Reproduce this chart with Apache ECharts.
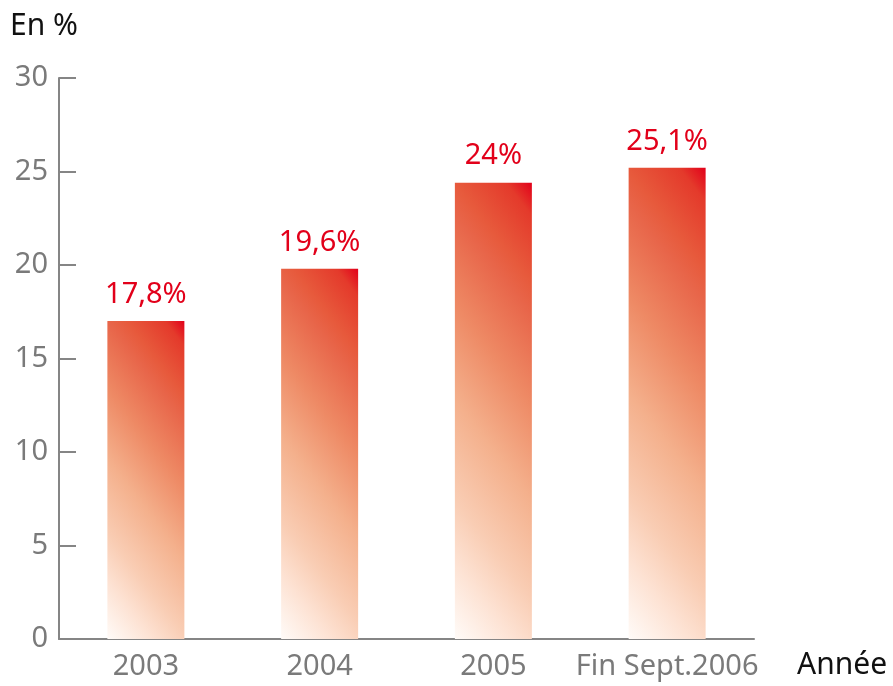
<!DOCTYPE html>
<html>
<head>
<meta charset="utf-8">
<script src="https://cdn.jsdelivr.net/npm/echarts@6/dist/echarts.min.js"></script>
<style>
  html, body { margin: 0; padding: 0; background: #fff; }
  #chart { width: 893px; height: 686px; }
</style>
</head>
<body>
<div id="chart"></div>
<script>
// data
const categories = ["2003", "2004", "2005", "Fin Sept.2006"];
const barValues = [17, 19.8, 24.4, 25.2];
const barLabels = ["17,8%", "19,6%", "24%", "25,1%"];
const yTicks = [0, 5, 10, 15, 20, 25, 30];

const font = "'Noto Sans', 'Open Sans', sans-serif";
const axisGray = "#858585";
const labelGray = "#7a7a7a";
const BAR_W = 77;

const fadeStops = [
  { offset: 0, color: "#e2001a" },
  { offset: 0.06, color: "#e43a2b" },
  { offset: 0.18, color: "#e75a3c" },
  { offset: 0.24, color: "#e8664a" },
  { offset: 0.4, color: "#ee8a65" },
  { offset: 0.57, color: "#f4b08c" },
  { offset: 0.75, color: "#f9cdb4" },
  { offset: 0.86, color: "#fde2d3" },
  { offset: 1, color: "#fffbf8" },
];

// red at the top-right corner, fading to white at the bottom-left,
// with the streaks slanting the same way on every bar
function barFill(h) {
  const dx = 100, dy = 77;
  const k = (BAR_W * dx + dy * h) / (dx * dx + dy * dy);
  return new echarts.graphic.LinearGradient(1, 0, 1 - (dx * k) / BAR_W, (dy * k) / h, fadeStops);
}

const chart = echarts.init(document.getElementById("chart"), null, { renderer: "canvas" });

chart.setOption({
  animation: false,
  grid: { left: 59, right: 139, top: 78, bottom: 47 },
  xAxis: {
    type: "category",
    data: categories,
    axisLine: { lineStyle: { color: axisGray, width: 2 } },
    axisTick: { inside: true, length: 14, lineStyle: { color: axisGray, width: 2 } },
    axisLabel: { interval: 0, color: labelGray, fontSize: 29, fontFamily: font, margin: 13 },
  },
  yAxis: {
    type: "value",
    min: yTicks[0],
    max: yTicks[yTicks.length - 1],
    interval: 5,
    splitLine: { show: false },
    axisLine: { show: true, lineStyle: { color: axisGray, width: 2 } },
    axisTick: { show: true, inside: true, length: 17, lineStyle: { color: axisGray, width: 2 } },
    axisLabel: { color: labelGray, fontSize: 29, fontFamily: font, margin: 11 },
  },
  graphic: [
    { type: "text", left: 10, top: 11, style: { text: "En %", fill: "#111", fontSize: 30, fontFamily: font } },
    { type: "text", left: 797, top: 650, style: { text: "Année", fill: "#111", fontSize: 30, fontFamily: font } },
  ],
  series: [
    {
      type: "bar",
      barWidth: BAR_W,
      data: barValues.map((v, i) => ({ value: v, label: { formatter: barLabels[i] } })),
      label: {
        show: true,
        position: "top",
        distance: 12,
        color: "#e2001a",
        fontSize: 29,
        fontFamily: font,
      },
      itemStyle: { color: "#ee8a65" },
    },
  ],
});

// now that the scale exists, give each bar its own gradient
const base = chart.convertToPixel({ gridIndex: 0 }, [0, 0])[1];
chart.setOption({
  series: [
    {
      data: barValues.map((v, i) => {
        const h = base - chart.convertToPixel({ gridIndex: 0 }, [0, v])[1];
        return { value: v, label: { formatter: barLabels[i] }, itemStyle: { color: barFill(h) } };
      }),
    },
  ],
});
</script>
</body>
</html>
